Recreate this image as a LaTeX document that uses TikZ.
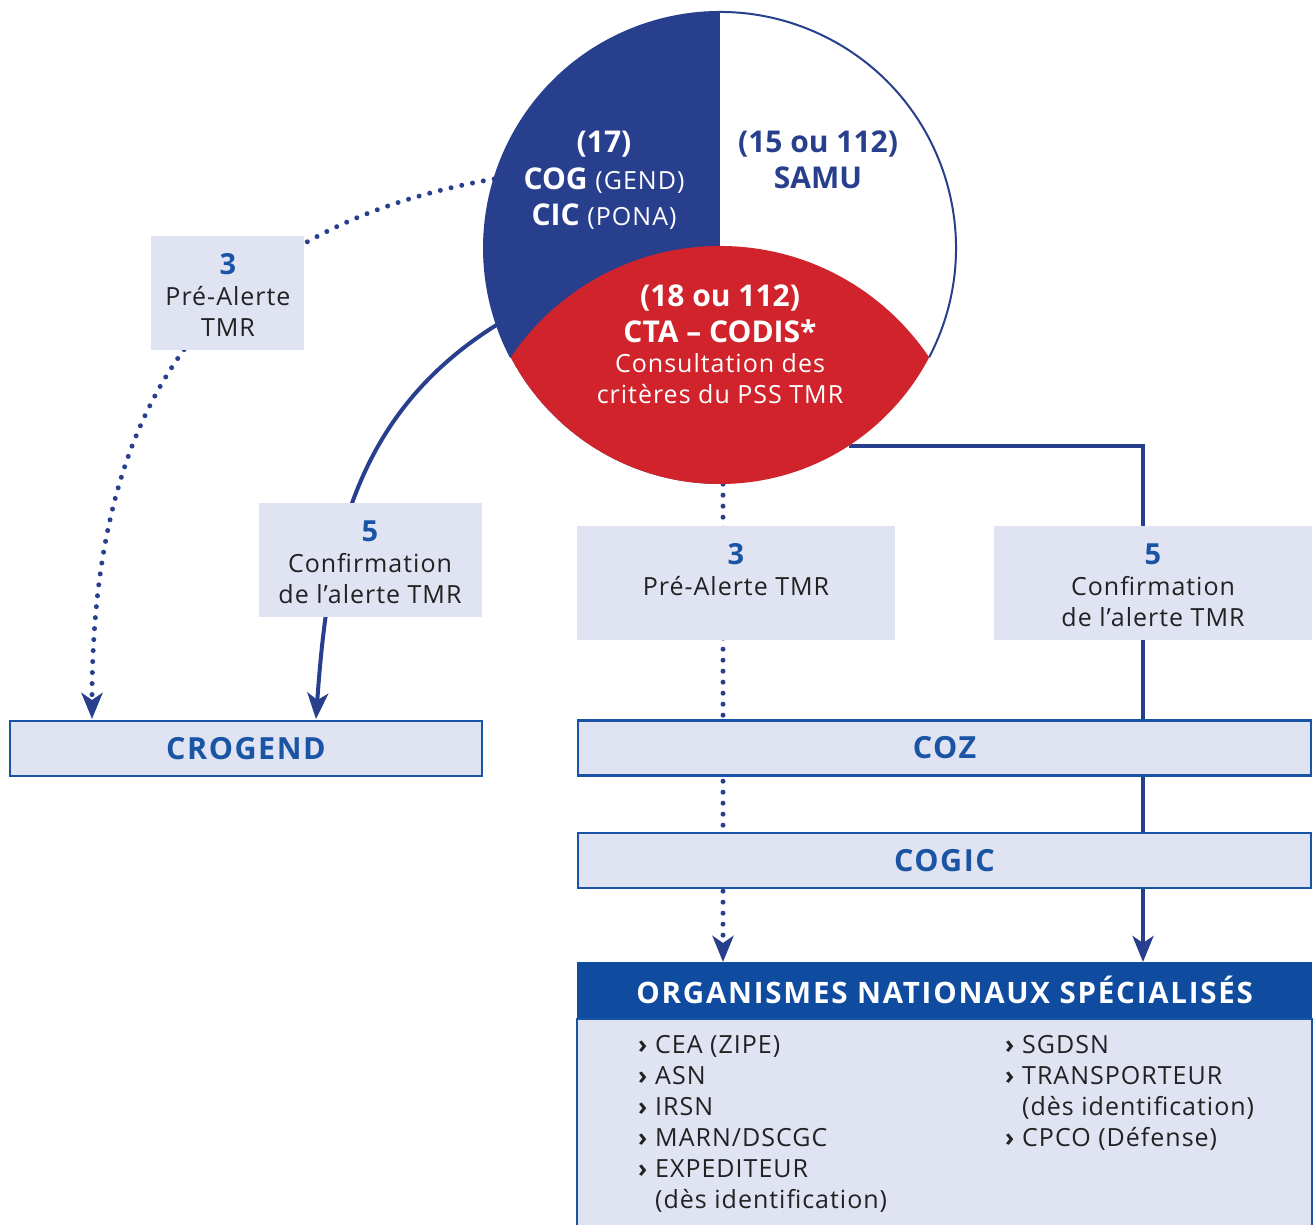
\documentclass[tikz,border=0pt]{standalone}
\usepackage{fontspec}
\setmainfont{Open Sans}
\usetikzlibrary{arrows.meta,calc}
\definecolor{navy}{RGB}{40,63,142}
\definecolor{boxfill}{RGB}{224,227,242}
\definecolor{nb}{RGB}{26,84,164}
\definecolor{hdr}{RGB}{15,76,159}
\definecolor{redfill}{RGB}{209,35,43}
\definecolor{txt}{RGB}{34,34,34}
\newcommand{\orgchev}{\makebox[17pt][l]{\textbf{›}}}
\newcommand{\numfont}{\fontsize{29}{31}\selectfont\bfseries\color{nb}}
\newcommand{\regsm}{\mdseries\fontsize{25}{31}\selectfont\addfontfeatures{LetterSpace=4}}
\begin{document}
\begin{tikzpicture}[x=1pt,y=1pt,
  conn/.style={draw=navy,line width=4pt},
  dotconn/.style={draw=navy,line width=5pt,line cap=round,dash pattern=on 0pt off 11pt},
  tip/.style={-{Stealth[length=26pt,width=21pt,inset=7pt]}},
  msgbox/.style={fill=boxfill,inner sep=0pt,minimum height=114pt,minimum width=#1},
  msgtext/.style={anchor=base,inner sep=0pt,align=center,text=txt,font=\fontsize{25}{31}\selectfont\addfontfeatures{LetterSpace=4}},
  bar/.style={fill=boxfill,draw=nb,line width=2.5pt,inner sep=0pt,minimum height=55pt,minimum width=#1,
    text=nb,font=\fontsize{30.5}{31}\selectfont\bfseries\addfontfeatures{LetterSpace=5}},
  circtext/.style={anchor=base,inner sep=0pt,align=center,font=\fontsize{30}{36.5}\selectfont\bfseries},
  listtext/.style={anchor=base west,inner sep=0pt,align=left,text=txt,font=\fontsize{25}{31}\selectfont\addfontfeatures{LetterSpace=4}}
]
\useasboundingbox (0,0) rectangle (1314,1225);

% named anchors
\node[circle,minimum size=472pt,inner sep=0pt] (circ) at (720,977) {};
\coordinate (dx) at (723,0);
\coordinate (sx) at (1143,0);
\coordinate (lx) at (316,0);
\coordinate (ldx) at (92,0);

\node[fill=boxfill,draw=nb,line width=2pt,inner sep=0pt,minimum width=735pt,minimum height=214pt,anchor=north] (orgbody) at (944.5,207) {};
\node[fill=hdr,inner sep=0pt,minimum width=735pt,minimum height=56pt,anchor=north west,
  text=white,font=\fontsize{29.5}{31}\selectfont\bfseries\addfontfeatures{LetterSpace=6}] (org) at (577,263) {ORGANISMES NATIONAUX SPÉCIALISÉS};

% connectors
\draw[dotconn,tip] (circ.south -| dx) -- (org.north -| dx);
\draw[conn,tip] (circ.-57.5) -| (org.north -| sx);
\draw[conn,tip] (circ.199.6) to[out=212,in=86] (lx |- 0,506);
\draw[dotconn,tip] (circ.163.8) to[out=190,in=90,looseness=1.15] (ldx |- 0,506);

% circle
\begin{scope}
  \clip (720,977) circle (236);
  \fill[white] (720,977) circle (236);
  \fill[navy] (480,720) rectangle (720,1220);
  \fill[redfill] (720,727) circle (252);
\end{scope}
\draw[navy,line width=2pt] ($(720,977)+(-27.6:236)$) arc[start angle=-27.6,end angle=207.6,radius=236];

\node[circtext,text=white] (t17) at (604,999) {(17)\\COG {\regsm(GEND)}\\CIC {\regsm(PONA)}};
\node[circtext,text=navy] (t15) at (818,1036) {(15 ou 112)\\SAMU};
\node[circtext,text=white] (t18) at (720,821) {(18 ou 112)\\[-0.5pt]CTA – CODIS*\\[-6.5pt]{\regsm Consultation des}\\[-5.5pt]{\regsm critères du PSS TMR}};

% message boxes
\node[msgbox=153pt] (lpre) at (227.5,932) {};
\node[msgtext] (lpret) at (228,888) {{\numfont 3}\\Pré-Alerte\\TMR};
\node[msgbox=223pt] (lconf) at (370.5,665) {};
\node[msgtext] (lconft) at (370,621) {{\numfont 5}\\Confirmation\\de l’alerte TMR};
\node[msgbox=318pt] (rpre) at (736,642) {};
\node[msgtext] (rpret) at (736,629) {{\numfont 3}\\Pré-Alerte TMR};
\node[msgbox=318pt] (rconf) at (1153,642) {};
\node[msgtext] (rconft) at (1153,598) {{\numfont 5}\\Confirmation\\de l’alerte TMR};

% bars
\node[bar=472pt] (crog) at (246,476.5) {CROGEND};
\node[bar=733pt] (coz) at (944.5,477) {COZ};
\node[bar=733pt] (cogic) at (944.5,364.5) {COGIC};

% list
\node[listtext] (listl) at (638,16) {\orgchev CEA (ZIPE)\\\orgchev ASN\\\orgchev IRSN\\\orgchev MARN/DSCGC\\\orgchev EXPEDITEUR\\\hspace*{17pt}(dès identification)};
\node[listtext] (listr) at (1005,78) {\orgchev SGDSN\\\orgchev TRANSPORTEUR\\\hspace*{17pt}(dès identification)\\\orgchev CPCO (Défense)};
\end{tikzpicture}
\end{document}
